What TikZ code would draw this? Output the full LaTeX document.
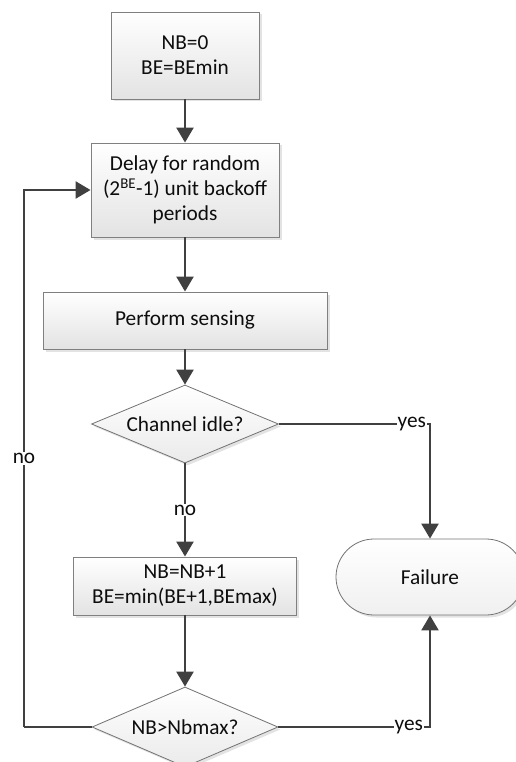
\documentclass[tikz,border=0pt]{standalone}
\usepackage{fontspec}
\setmainfont{Carlito}
\usetikzlibrary{arrows.meta,shapes.geometric,shadows}

\tikzset{
  txt/.style={font=\fontsize{21.3}{25}\selectfont, text=black!95, align=center},
  shade/.style={drop shadow={shadow xshift=2.5pt, shadow yshift=-2.5pt, fill=black!18, opacity=0.6}},
  procbox/.style={txt, rectangle, draw=black!50, line width=0.9pt, inner sep=0pt,
    top color=white, bottom color=black!11, shade},
  decision/.style={txt, diamond, draw=black!55, line width=0.8pt, inner sep=0pt, shape aspect=2.4,
    top color=white, bottom color=black!8, shade},
  terminal/.style={txt, rectangle, rounded corners=38pt, draw=black!55, line width=0.8pt, inner sep=0pt,
    top color=white, bottom color=black!6, shade},
  flow/.style={draw=black!75, line width=2.4pt, -{Triangle[width=17pt,length=15pt]}},
  plain/.style={draw=black!75, line width=2.4pt},
  lbl/.style={txt, fill=white, inner sep=1pt}
}

\begin{document}
\begin{tikzpicture}[x=1pt, y=-1pt]
  \useasboundingbox (0,0) rectangle (515,762);

  % process steps
  \node[procbox, minimum width=148pt, minimum height=87pt] (init) at (185,55.5) {NB=0\\BE=BEmin};
  \node[procbox, minimum width=188pt, minimum height=94pt] (delay) at (185,190)
    {Delay for random\\(2\textsuperscript{BE}-1) unit backoff\\periods};
  \node[procbox, minimum width=284pt, minimum height=57pt] (sense) at (185,320.5) {Perform sensing};
  \node[decision, minimum width=187pt, minimum height=78pt] (idle) at (185,424) {Channel idle?};
  \node[procbox, minimum width=223pt, minimum height=58pt] (update) at (185,586)
    {NB=NB+1\\BE=min(BE+1,BEmax)};
  \node[decision, minimum width=186pt, minimum height=80pt] (limit) at (185,727) {NB>Nbmax?};
  \node[terminal, minimum width=188pt, minimum height=76pt] (fail) at (430,577) {Failure};

  % main column
  \draw[flow] (init) -- (delay);
  \draw[flow] (delay) -- (sense);
  \draw[flow] (sense) -- (idle);
  \draw[flow] (idle) -- node[lbl, pos=0.5] {no} (update);
  \draw[flow] (update) -- (limit);

  % branches to failure
  \draw[flow] (idle.east) -| node[lbl, pos=0.44] {yes} (fail.north);
  \draw[flow] (limit.east) -| node[lbl, pos=0.43] {yes} (fail.south);

  % retry loop
  \coordinate (loop) at (24,727);
  \draw[plain] (limit.west) -- (loop);
  \draw[flow] (loop) |- node[lbl, pos=0.25] {no} (delay.west);
\end{tikzpicture}
\end{document}
